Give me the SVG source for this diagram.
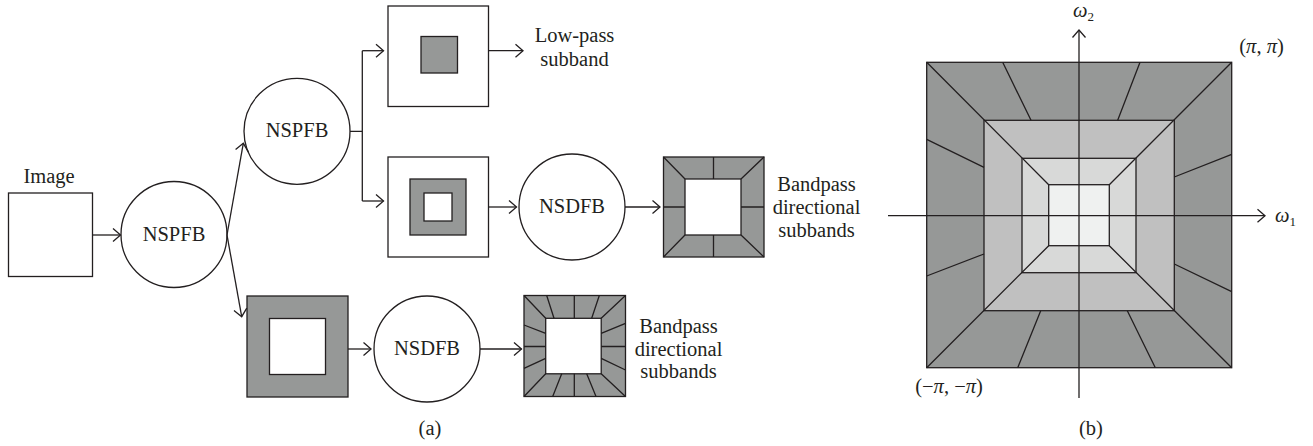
<svg xmlns="http://www.w3.org/2000/svg" width="1313" height="446" viewBox="0 0 1313 446">
<defs>
<style>
.s{stroke:#231f20;stroke-width:1.3;}
.w{fill:#ffffff;}
.g{fill:#969897;}
.t{font-family:"Liberation Serif","Times New Roman",serif;font-size:20.5px;fill:#231f20;text-anchor:middle;}
.c{stroke:#231f20;stroke-width:1.3;fill:none;}
.a{marker-end:url(#ah);}
</style>
<marker id="ah" markerUnits="userSpaceOnUse" viewBox="-10 -8 12 16" refX="0" refY="0" markerWidth="12" markerHeight="16" orient="auto">
<path d="M-7.5,-6.5 L0,0 L-7.5,6.5" fill="none" stroke="#231f20" stroke-width="1.3"/>
</marker>
</defs>
<rect width="1313" height="446" fill="#ffffff"/>

<g id="image">
<rect class="s w" x="8.5" y="193" width="84" height="83.5"/>
<text class="t" x="49" y="183">Image</text>
</g>

<g id="nspfb1">
<circle class="s w" cx="174" cy="234.5" r="53"/>
<text class="t" x="174" y="240.5">NSPFB</text>
</g>

<g id="nspfb2">
<circle class="s w" cx="297" cy="131.3" r="53"/>
<text class="t" x="297" y="137">NSPFB</text>
</g>

<g id="lowpass">
<rect class="s w" x="388" y="6" width="100.5" height="100.5"/>
<rect class="s g" x="421" y="36.5" width="36.5" height="36.5"/>
</g>
<g id="lowpass-label">
<text class="t" x="574.5" y="41.5">Low-pass</text>
<text class="t" x="574.5" y="65.5">subband</text>
</g>

<g id="band1">
<rect class="s w" x="388" y="157" width="100.5" height="100"/>
<rect class="s g" x="410" y="179" width="56" height="56"/>
<rect class="s w" x="424" y="193" width="28" height="28"/>
</g>

<g id="nsdfb1">
<circle class="s w" cx="572" cy="207" r="53"/>
<text class="t" x="572" y="212.5">NSDFB</text>
</g>

<g id="dir1">
<rect class="s g" x="663.5" y="157" width="100.5" height="100"/>
<rect class="s w" x="685" y="179" width="56" height="56"/>
<path class="c" d="M663.5,157 L685,179 M764,157 L741,179 M764,257 L741,235 M663.5,257 L685,235 M713.5,157 V179 M713.5,235 V257 M663.5,207 H685 M741,207 H764"/>
</g>
<g id="dir1-label">
<text class="t" x="816.5" y="190.5">Bandpass</text>
<text class="t" x="816.5" y="213.5">directional</text>
<text class="t" x="816.5" y="236.5">subbands</text>
</g>

<g id="band2">
<rect class="s g" x="247" y="296" width="101" height="101"/>
<rect class="s w" x="269.5" y="318.5" width="56" height="56"/>
</g>

<g id="nsdfb2">
<circle class="s w" cx="427" cy="349" r="53"/>
<text class="t" x="427" y="354.5">NSDFB</text>
</g>

<g id="dir2">
<rect class="s g" x="524" y="295.5" width="101.5" height="101"/>
<rect class="s w" x="545.7" y="318.3" width="55.5" height="55.5"/>
<path class="c" d="M524,295.5 L545.7,318.3 M625.5,295.5 L601.2,318.3 M625.5,396.5 L601.2,373.8 M524,396.5 L545.7,373.8 M574.3,295.5 V318.3 M574.3,373.8 V396.5 M524,346.5 H545.7 M601.2,346.5 H625.5 M546.7,295.5 L554,318.3 M599.3,295.5 L591.7,318.3 M552.7,396.5 L561.7,373.8 M596,396.5 L586.7,373.8 M524,325 L545.7,333.3 M524,368.3 L545.7,358.3 M625.5,323.3 L601.2,333.3 M625.5,370 L601.2,358.3"/>
</g>
<g id="dir2-label">
<text class="t" x="678.5" y="333">Bandpass</text>
<text class="t" x="678.5" y="355.5">directional</text>
<text class="t" x="678.5" y="377.5">subbands</text>
</g>

<g id="connectors">
<path class="c a" d="M92.5,235 H120.5"/>
<path class="c a" d="M227,235 L243.3,143.3"/>
<path class="c a" d="M227,235 L241.7,316.7"/>
<path class="c" d="M350,131.3 H362.3 M362.3,50.7 V201"/>
<path class="c a" d="M362.3,50.7 H383.5"/>
<path class="c a" d="M362.3,201 H383.5"/>
<path class="c a" d="M488.5,50.7 H523"/>
<path class="c a" d="M488.5,207 H516.5"/>
<path class="c a" d="M625,207 H660"/>
<path class="c a" d="M348,349 H371"/>
<path class="c a" d="M480,349 H521.5"/>
</g>

<text class="t" x="430" y="435" font-size="19">(a)</text>

<g id="freq-plane">
<rect class="s" fill="#969897" x="926.7" y="62.3" width="305" height="305.4"/>
<rect class="s" fill="#c0c0c0" x="984" y="120.3" width="190.3" height="190.4"/>
<rect class="s" fill="#d8d9d8" x="1022" y="158.3" width="114" height="114.4"/>
<rect class="s" fill="#eff1f0" x="1048.7" y="184.7" width="60.6" height="61"/>
<path class="c" d="M926.7,62.3 L1048.7,184.7 M1231.7,62.3 L1109.3,184.7 M1231.7,367.7 L1109.3,245.7 M926.7,367.7 L1048.7,245.7 M1002.7,62.3 L1031,120.3 M1140,62.3 L1117.7,120.3 M926.7,139.3 L984,167.3 M926.7,276 L984,254 M1231.7,154.3 L1174.3,177 M1231.7,291.7 L1174.3,264 M1017.7,367.7 L1040.7,310.7 M1155.3,367.7 L1127.3,310.7"/>
</g>
<g id="axes">
<path class="c a" d="M1079,398 V30"/>
<path class="c a" d="M888,215.7 H1265"/>
</g>
<g id="axis-labels" font-family="Liberation Serif, Times New Roman, serif" fill="#231f20" font-size="20.5">
<text x="1073" y="16.5" font-style="italic">ω<tspan font-style="normal" font-size="13" dy="4">2</tspan></text>
<text x="1275" y="221.5" font-style="italic">ω<tspan font-style="normal" font-size="13" dy="4">1</tspan></text>
<text x="1261.5" y="53" text-anchor="middle">(<tspan font-style="italic">π</tspan>, <tspan font-style="italic">π</tspan>)</text>
<text x="949" y="393" text-anchor="middle">(−<tspan font-style="italic">π</tspan>, −<tspan font-style="italic">π</tspan>)</text>
</g>
<text class="t" x="1091" y="435" font-size="19">(b)</text>
</svg>
